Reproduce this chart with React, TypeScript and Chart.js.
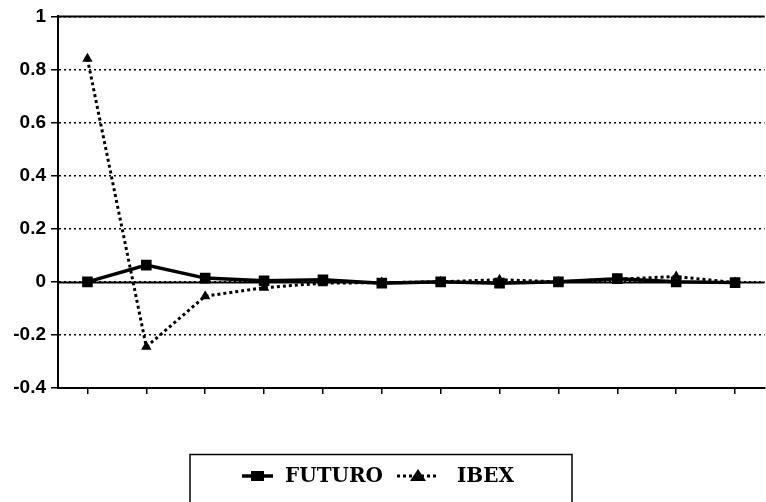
import React, { useEffect, useRef } from "react";
import { Chart, registerables } from "chart.js";

Chart.register(...registerables);

const categories = ["1", "2", "3", "4", "5", "6", "7", "8", "9", "10", "11", "12"];
const futuro = [0.0, 0.063, 0.014, 0.004, 0.008, -0.005, 0.0, -0.005, 0.0, 0.012, 0.0, -0.003];
const ibex = [0.84, -0.245, -0.054, -0.022, -0.005, -0.003, 0.0, 0.008, 0.0, 0.01, 0.02, -0.003];
const yMin = -0.4;
const yMax = 1;
const yStep = 0.2;
const seriesNames = ["FUTURO", "IBEX"];

const solidLinesPlugin = {
  id: "solidLines",
  beforeDatasetsDraw(chart: any) {
    const { ctx, chartArea, scales } = chart;
    ctx.save();
    ctx.strokeStyle = "#000";
    ctx.lineWidth = 2;
    ctx.setLineDash([]);
    [0, yMax].forEach((v) => {
      const y = Math.round(scales.y.getPixelForValue(v)) + 0.5;
      ctx.beginPath();
      ctx.moveTo(chartArea.left, y);
      ctx.lineTo(chartArea.right, y);
      ctx.stroke();
    });
    ctx.restore();
  },
};

const legendPlugin = {
  id: "boxLegend",
  afterDraw(chart: any) {
    const { ctx } = chart;
    ctx.save();
    ctx.strokeStyle = "#000";
    ctx.lineWidth = 1.5;
    ctx.setLineDash([]);
    ctx.strokeRect(190, 454.5, 382, 80);
    ctx.font = "bold 20px 'DejaVu Serif'";
    ctx.textBaseline = "middle";
    ctx.fillStyle = "#000";
    const cy = 476;
    // FUTURO symbol
    let x = 242;
    ctx.lineWidth = 3.5;
    ctx.beginPath();
    ctx.moveTo(x, cy);
    ctx.lineTo(x + 31, cy);
    ctx.stroke();
    ctx.fillRect(x + 9, cy - 5, 13, 10);
    ctx.fillText(seriesNames[0], 285, cy + 1);
    // IBEX symbol
    x = 397;
    ctx.lineWidth = 3;
    ctx.setLineDash([3, 3]);
    ctx.beginPath();
    ctx.moveTo(x, cy);
    ctx.lineTo(x + 42, cy);
    ctx.stroke();
    ctx.setLineDash([]);
    const tx = x + 21;
    ctx.beginPath();
    ctx.moveTo(tx, cy - 7);
    ctx.lineTo(tx + 8, cy + 5);
    ctx.lineTo(tx - 8, cy + 5);
    ctx.closePath();
    ctx.fill();
    ctx.fillText(seriesNames[1], 457, cy + 1);
    ctx.restore();
  },
};

export default function App() {
  const ref = useRef<HTMLCanvasElement>(null);
  useEffect(() => {
    const canvas = ref.current;
    if (!canvas) return;
    const chart = new Chart(canvas, {
      type: "line",
      data: {
        labels: categories,
        datasets: [
          {
            label: seriesNames[0],
            data: futuro,
            borderColor: "#000",
            backgroundColor: "#000",
            borderWidth: 3.5,
            pointStyle: "rect",
            pointRadius: 7.5,
            pointBorderWidth: 0,
            pointBackgroundColor: "#000",
            tension: 0,
            order: 1,
          },
          {
            label: seriesNames[1],
            data: ibex,
            borderColor: "#000",
            backgroundColor: "#000",
            borderWidth: 3,
            borderDash: [3, 3],
            pointStyle: "triangle",
            pointRadius: 6,
            pointBorderWidth: 0,
            pointBackgroundColor: "#000",
            tension: 0,
            order: 2,
          },
        ],
      },
      options: {
        responsive: false,
        animation: false,
        devicePixelRatio: 1,
        layout: { padding: { top: 16, left: 0, right: 0, bottom: 0 } },
        plugins: { legend: { display: false }, tooltip: { enabled: false } },
        scales: {
          x: {
            type: "category",
            offset: true,
            grid: {
              offset: false,
              drawOnChartArea: false,
              drawTicks: true,
              tickLength: 6,
              color: "#000",
              lineWidth: 1.5,
            },
            border: { display: true, color: "#000", width: 2 },
            ticks: { display: false },
            afterFit: (scale: any) => {
              scale.height = 114;
            },
          },
          y: {
            min: yMin,
            max: yMax,
            ticks: {
              stepSize: yStep,
              color: "#000",
              padding: 5,
              font: { family: "'Liberation Sans', Arial, sans-serif", size: 19, weight: "bold" },
              callback: (v: any) => String(Math.round(Number(v) * 10) / 10),
            },
            grid: {
              color: "#000",
              lineWidth: 1.5,
              drawTicks: true,
              tickLength: 7,
              tickBorderDash: [],
            },
            border: { display: true, color: "#000", width: 2, dash: [2, 3] },
            afterFit: (scale: any) => {
              scale.width = 58;
            },
          },
        },
      },
      plugins: [solidLinesPlugin, legendPlugin],
    });
    return () => chart.destroy();
  }, []);
  return (
    <div style={{ position: "absolute", left: 0, top: 0, width: 766, height: 502, overflow: "hidden" }}>
      <canvas
        ref={ref}
        width={772}
        height={502}
        style={{ position: "absolute", left: 0, top: 0, width: 772, height: 502 }}
      />
    </div>
  );
}
